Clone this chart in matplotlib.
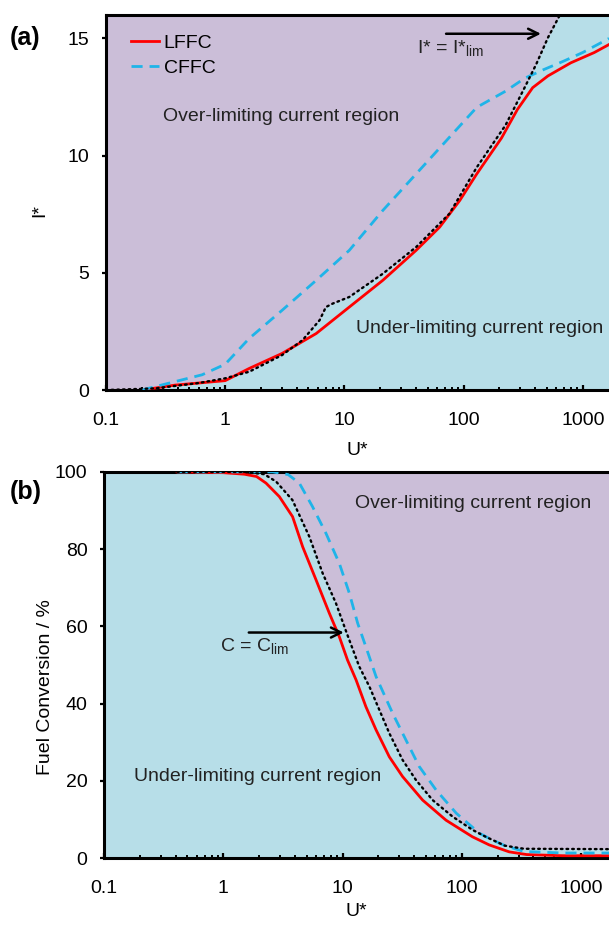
import numpy as np
import matplotlib
matplotlib.use("Agg")
from matplotlib import pyplot as plt
from matplotlib.ticker import LogLocator, FixedLocator, NullFormatter

plt.rcParams['font.family'] = ['Liberation Sans', 'DejaVu Sans']

PURPLE = '#CBBED8'
BLUE = '#B7DEE8'
FS = 14

# Panel (a): dimensionless current I* against U*
a_lffc_u = [0.2, 0.38, 1.0, 1.59, 3.0, 5.8, 11.0, 21, 40, 63, 93, 129, 208, 283,
            380, 510, 794, 1250, 1660]
a_lffc_i = [0, 0.21, 0.4, 0.92, 1.56, 2.41, 3.54, 4.68, 5.96, 6.95, 8.09, 9.22,
            10.75, 11.97, 12.9, 13.4, 13.96, 14.4, 14.74]

a_cffc_u = [0.2, 0.38, 0.64, 1.0, 1.59, 3.0, 5.8, 11.0, 21, 40, 76, 129, 225, 325,
            470, 690, 1000, 1660]
a_cffc_i = [0, 0.36, 0.65, 1.1, 2.2, 3.4, 4.68, 5.96, 7.66, 9.22, 10.78, 12.06,
            12.75, 13.3, 13.67, 14.03, 14.4, 15.0]

a_lim_u = [0.1, 0.26, 0.6, 1.0, 1.59, 3.0, 4.46, 6.2, 7.0, 8.0, 11.0, 21, 40, 76,
           129, 225, 325, 407, 510, 635]
a_lim_i = [0, 0.07, 0.3, 0.5, 0.78, 1.49, 2.13, 2.98, 3.54, 3.69, 3.97, 4.96, 6.1,
           7.52, 9.5, 11.3, 12.9, 13.9, 15.03, 15.95]

# Panel (b): fuel conversion (%) against U*
b_lffc_u = [0.41, 1.0, 1.5, 1.9, 2.28, 2.95, 3.81, 4.63, 6.0, 7.75, 9.4, 11.0, 13.0,
            15.7, 19.1, 24.7, 31.9, 47, 73.8, 123, 170, 250, 350, 700, 1720]
b_lffc_c = [100, 99.8, 99.4, 98.8, 97.1, 93.6, 88.4, 80.6, 72.0, 63.4, 57.3, 51.3,
            46.1, 39.2, 33.2, 26.2, 21.1, 15.0, 9.8, 5.5, 3.4, 1.6, 0.9, 0.6, 0.6]

b_cffc_u = [0.41, 2.6, 3.5, 4.34, 5.6, 7.26, 9.4, 11.4, 13.4, 15.7, 19.1, 26.3, 34,
            44, 61, 90, 141, 170, 230, 333, 700, 1720]
b_cffc_c = [100, 100, 99.3, 97.1, 91.0, 84.1, 76.3, 68.6, 60.8, 54.7, 47.0, 37.5,
            30.6, 23.7, 17.6, 11.6, 6.4, 5.1, 3.2, 1.7, 1.3, 1.3]

b_lim_u = [0.41, 1.5, 2.2, 2.77, 3.8, 5.27, 6.8, 8.8, 10.8, 13.8, 16.8, 20.4, 24.7,
           31.9, 41.3, 57, 84, 123, 159, 230, 333, 1720]
b_lim_c = [100, 100, 99.4, 97.5, 92.7, 83.2, 73.8, 66.0, 58.4, 49.6, 44.4, 38.3,
           32.3, 25.4, 20.2, 15.0, 10.7, 7.3, 5.5, 3.2, 2.4, 2.3]

x_ticks = [0.1, 1, 10, 100, 1000]
x_tick_labels = ['0.1', '1', '10', '100', '1000']


def style_axes(ax, xmax, ymax, yticks, xlabelpad):
    ax.set_xscale('log')
    ax.set_xlim(0.1, xmax)
    ax.set_ylim(0, ymax)
    ax.xaxis.set_major_locator(FixedLocator(x_ticks))
    ax.set_xticklabels(x_tick_labels)
    ax.xaxis.set_minor_locator(LogLocator(base=10, subs=np.arange(2, 10)))
    ax.xaxis.set_minor_formatter(NullFormatter())
    ax.set_yticks(yticks)
    ax.tick_params(axis='x', which='major', direction='in', length=3.5, width=1.6,
                   labelsize=FS, pad=16)
    ax.tick_params(axis='x', which='minor', direction='in', length=2.5, width=1.4)
    ax.tick_params(axis='y', direction='out', length=3, width=1.6, labelsize=FS,
                   pad=9)
    for s in ['top', 'left', 'bottom']:
        ax.spines[s].set_linewidth(2.2)
    ax.spines['right'].set_visible(False)
    ax.set_xlabel('U*', fontsize=FS, labelpad=xlabelpad)


def draw_curves(ax, lffc, cffc, lim):
    ax.plot(*lffc, color='red', lw=2.0, label='LFFC', zorder=3)
    ax.plot(*cffc, color='#1FB4E8', lw=2.0, ls=(0, (4, 2.5)), label='CFFC', zorder=3)
    ax.plot(*lim, color='black', lw=1.7, ls=(0, (0.7, 1.7)),
            dash_capstyle='round', zorder=4)


fig = plt.figure(figsize=(6.09, 9.26), dpi=100)

# ---- (a)
ax1 = fig.add_axes([0.174, 0.5788, 0.826, 0.405])
xmax_a = 1660
ymax_a = 16
ax1.set_facecolor(PURPLE)
ax1.fill_between(np.append(a_lim_u, xmax_a), 0, np.append(a_lim_i, ymax_a),
                 color=BLUE, lw=0, zorder=0.5)
draw_curves(ax1, (a_lffc_u, a_lffc_i), (a_cffc_u, a_cffc_i), (a_lim_u, a_lim_i))
style_axes(ax1, xmax_a, ymax_a, [0, 5, 10, 15], 9)
ax1.set_ylabel('I*', fontsize=FS)
ax1.yaxis.set_label_coords(-0.115, 0.48)
ax1.legend(loc='upper left', bbox_to_anchor=(0.03, 0.975), frameon=False,
           fontsize=FS, handlelength=1.45, handletextpad=0.25, labelspacing=0.4,
           borderpad=0)
ax1.text(0.30, 11.66, 'Over-limiting current region', fontsize=FS, va='center',
         color='#222222')
ax1.text(12.4, 2.64, 'Under-limiting current region', fontsize=FS, va='center',
         color='#222222')
ax1.text(40.7, 14.55, r'I* = I*$_{\mathregular{lim}}$', fontsize=FS, va='center',
         color='#222222')
ax1.annotate('', xy=(470, 15.2), xytext=(67.6, 15.2),
             arrowprops=dict(arrowstyle='->', lw=1.8, color='black',
                             mutation_scale=18))
fig.text(0.016, 0.959, '(a)', fontsize=18, fontweight='bold', va='center')

# ---- (b)
ax2 = fig.add_axes([0.171, 0.0734, 0.829, 0.417])
xmax_b = 1720
ymax_b = 100
ax2.set_facecolor(PURPLE)
ax2.fill_between(np.insert(np.array(b_lim_u, float), 0, 0.1), 0,
                 np.insert(np.array(b_lim_c, float), 0, ymax_b),
                 color=BLUE, lw=0, zorder=0.5)
draw_curves(ax2, (b_lffc_u, b_lffc_c), (b_cffc_u, b_cffc_c), (b_lim_u, b_lim_c))
style_axes(ax2, xmax_b, ymax_b, [0, 20, 40, 60, 80, 100], 4)
ax2.set_ylabel('Fuel Conversion / %', fontsize=FS)
ax2.yaxis.set_label_coords(-0.099, 0.443)
ax2.text(12.8, 91.8, 'Over-limiting current region', fontsize=FS, va='center',
         color='#222222')
ax2.text(0.178, 21.1, 'Under-limiting current region', fontsize=FS, va='center',
         color='#222222')
ax2.text(0.93, 54.7, r'C = C$_{\mathregular{lim}}$', fontsize=FS, va='center',
         color='#222222')
ax2.annotate('', xy=(10.8, 58.4), xytext=(1.55, 58.4),
             arrowprops=dict(arrowstyle='->', lw=1.8, color='black',
                             mutation_scale=18))
fig.text(0.016, 0.469, '(b)', fontsize=18, fontweight='bold', va='center')

fig.savefig('out.png', dpi=100)
